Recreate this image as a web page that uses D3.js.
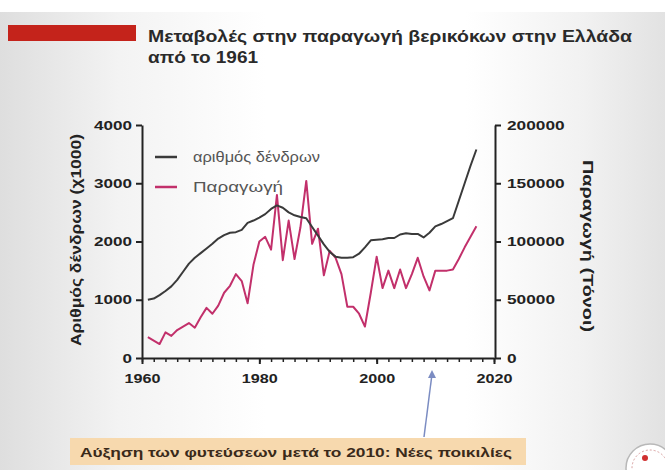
<!DOCTYPE html>
<html><head><meta charset="utf-8">
<script src="https://cdn.jsdelivr.net/npm/d3@7"></script>
<style>html,body{margin:0;padding:0;background:#fff;}svg{display:block;}</style>
</head><body>
<svg id="c" width="665" height="470"></svg>
<script>
const titleLines = ["Μεταβολές στην παραγωγή βερικόκων στην Ελλάδα", "από το 1961"];
const years = d3.range(1961, 2018);
const trees = [1000,1020,1080,1150,1230,1340,1480,1620,1720,1800,
  1880,1960,2050,2110,2150,2160,2200,2320,2360,2410,
  2470,2560,2620,2580,2500,2450,2420,2400,2250,2100,
  1950,1820,1740,1720,1720,1730,1790,1900,2020,2030,
  2040,2060,2060,2120,2140,2130,2130,2070,2150,2260,
  2300,2350,2400,2700,3000,3300,3580];
const production = [18000,15000,12000,22000,19000,24000,27000,30000,26000,35000,
  43000,38000,45000,56000,62000,72000,66000,47000,80000,100000,
  104000,93000,140000,84000,118000,85000,112000,152000,98000,111000,
  71000,92000,86000,72000,44000,44000,38000,27000,56000,87000,
  60000,75000,60000,76000,60000,72000,86000,70000,58000,75000,
  75000,75000,76000,85000,95000,104000,113000];
const leftTicks = [0,1000,2000,3000,4000];
const rightTicks = [0,50000,100000,150000,200000];
const xTicks = [1960,1980,2000,2020];
const legendLabels = ["αριθμός δένδρων","Παραγωγή"];
const leftTitle = "Αριθμός δένδρων (χ1000)";
const rightTitle = "Παραγωγή (Τόνοι)";
const noteText = "Αύξηση των φυτεύσεων μετά το 2010: Νέες ποικιλίες";

const svg = d3.select("#c");
const defs = svg.append("defs");
const g1 = defs.append("linearGradient").attr("id","bg").attr("x1","0").attr("x2","1").attr("y1","0").attr("y2","0");
[["0%","#dedede"],["18%","#f3f3f3"],["40%","#ffffff"],["70%","#ffffff"],["88%","#f1f1f1"],["100%","#e2e2e2"]]
  .forEach(([o,c])=>g1.append("stop").attr("offset",o).attr("stop-color",c));
svg.append("rect").attr("x",0).attr("y",0).attr("width",665).attr("height",470).attr("fill","url(#bg)");
svg.append("rect").attr("x",0).attr("y",0).attr("width",665).attr("height",12).attr("fill","#ffffff");

// title
svg.append("rect").attr("x",8).attr("y",25).attr("width",128).attr("height",16).attr("fill","#c4231b");
const fontT = "'Liberation Sans', Arial, sans-serif";
svg.append("text").attr("x",148).attr("y",42).attr("font-family",fontT).attr("font-weight","bold")
  .attr("font-size",16).attr("fill","#2a2a2a").attr("textLength",484).attr("lengthAdjust","spacingAndGlyphs").text(titleLines[0]);
svg.append("text").attr("x",148).attr("y",63).attr("font-family",fontT).attr("font-weight","bold")
  .attr("font-size",16).attr("fill","#2a2a2a").attr("textLength",110).attr("lengthAdjust","spacingAndGlyphs").text(titleLines[1]);

const x = d3.scaleLinear().domain([1960,2020]).range([142,494]);
const yL = d3.scaleLinear().domain([0,4000]).range([358,125]);
const yR = d3.scaleLinear().domain([0,200000]).range([358,125]);

const axFont = "'Liberation Sans', Arial, sans-serif";
function styleAxis(sel, perChar){
  sel.selectAll("path").attr("stroke","#222").attr("stroke-width",2);
  sel.selectAll("line").attr("stroke","#222").attr("stroke-width",2);
  sel.selectAll("text").attr("font-family",axFont).attr("font-weight","bold").attr("font-size",12.5).attr("fill","#222")
    .each(function(){ const t = d3.select(this).text(); d3.select(this).attr("textLength", t.length*perChar).attr("lengthAdjust","spacingAndGlyphs"); });
}
// minor x ticks
const gxm = svg.append("g").attr("transform","translate(0,358)")
  .call(d3.axisBottom(x).tickValues(d3.range(1960,2021,2)).tickSize(4).tickFormat("").tickSizeOuter(0));
gxm.selectAll("path").remove();
gxm.selectAll("line").attr("stroke","#222").attr("stroke-width",1.5);
const gx = svg.append("g").attr("transform","translate(0,358)")
  .call(d3.axisBottom(x).tickValues(xTicks).tickSize(6).tickPadding(10).tickFormat(d3.format("d")).tickSizeOuter(0));
styleAxis(gx, 9);
const gl = svg.append("g").attr("transform","translate(142,0)")
  .call(d3.axisLeft(yL).tickValues(leftTicks).tickSize(6).tickPadding(4).tickFormat(d3.format("d")).tickSizeOuter(0));
styleAxis(gl, 9.5);
const gr = svg.append("g").attr("transform","translate(495,0)")
  .call(d3.axisRight(yR).tickValues(rightTicks).tickSize(6).tickPadding(6).tickFormat(d3.format("d")).tickSizeOuter(0));
styleAxis(gr, 9.6);

// axis titles
svg.append("text").attr("transform","translate(81,240) rotate(-90)").attr("text-anchor","middle")
  .attr("font-family",axFont).attr("font-weight","bold").attr("font-size",14.5).attr("fill","#222")
  .attr("textLength",212).attr("lengthAdjust","spacingAndGlyphs").text(leftTitle);
svg.append("text").attr("transform","translate(583,246) rotate(90)").attr("text-anchor","middle")
  .attr("font-family",axFont).attr("font-weight","bold").attr("font-size",14.5).attr("fill","#222")
  .attr("textLength",172).attr("lengthAdjust","spacingAndGlyphs").text(rightTitle);

// lines
const lineT = d3.line().x((d,i)=>x(years[i])).y(d=>yL(d));
const lineP = d3.line().x((d,i)=>x(years[i])).y(d=>yR(d));
svg.append("path").datum(production).attr("d",lineP).attr("fill","none").attr("stroke","#c2306b").attr("stroke-width",2).attr("stroke-linejoin","round");
svg.append("path").datum(trees).attr("d",lineT).attr("fill","none").attr("stroke","#3a3a3a").attr("stroke-width",2).attr("stroke-linejoin","round");

// legend
const legColors = ["#3a3a3a","#c2306b"];
const legW = [127, 90];
legendLabels.forEach((t,i)=>{
  const yy = 157 + i*30;
  svg.append("line").attr("x1",155).attr("x2",177).attr("y1",yy).attr("y2",yy).attr("stroke",legColors[i]).attr("stroke-width",2.5);
  svg.append("text").attr("x",193).attr("y",yy+5).attr("font-family",axFont).attr("font-size",14).attr("fill","#555")
    .attr("textLength",legW[i]).attr("lengthAdjust","spacingAndGlyphs").text(t);
});

// annotation
svg.append("rect").attr("x",70).attr("y",438).attr("width",456).attr("height",27).attr("fill","#f7d9ae");
svg.append("text").attr("x",80).attr("y",457).attr("font-family",axFont).attr("font-weight","bold").attr("font-size",12.5)
  .attr("fill","#3a2a1a").attr("textLength",432).attr("lengthAdjust","spacingAndGlyphs").text(noteText);
svg.append("line").attr("x1",424).attr("y1",437).attr("x2",432).attr("y2",374).attr("stroke","#7b8cc2").attr("stroke-width",1.5);
svg.append("path").attr("d","M432,370 L428,378 L436,378 Z").attr("fill","#7b8cc2");

// logo (partial)
svg.append("circle").attr("cx",650).attr("cy",468).attr("r",24).attr("fill","#fff").attr("stroke","#b8b8b8").attr("stroke-width",1.5);
svg.append("circle").attr("cx",650).attr("cy",468).attr("r",18).attr("fill","none").attr("stroke","#d8a0a0").attr("stroke-width",1).attr("stroke-dasharray","2,2");
svg.append("circle").attr("cx",645).attr("cy",458).attr("r",3).attr("fill","#d03030");
</script>
</body></html>
